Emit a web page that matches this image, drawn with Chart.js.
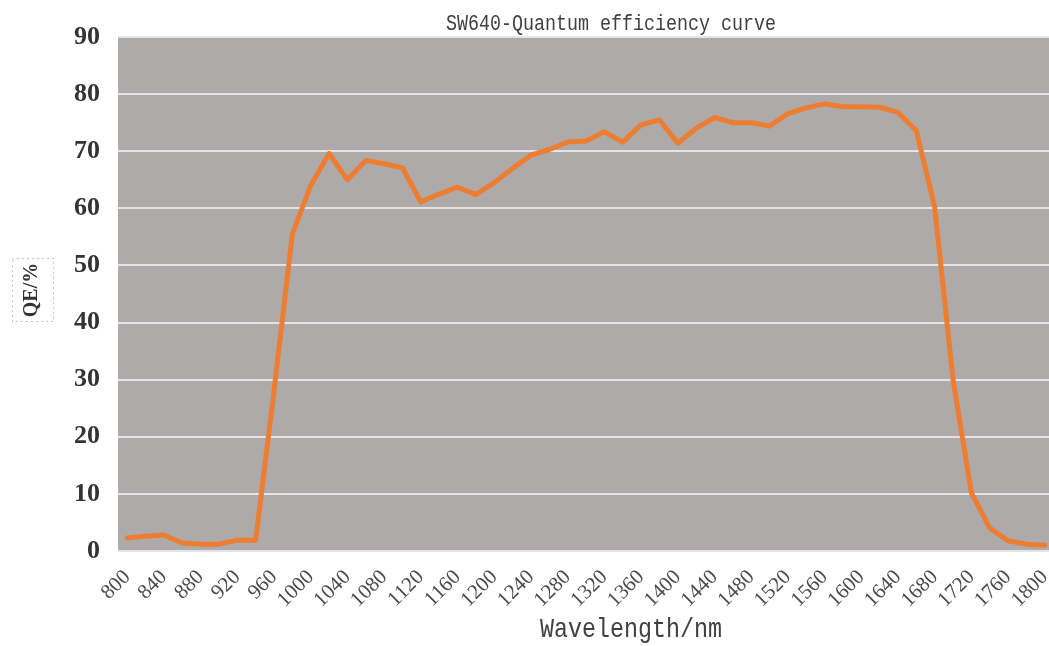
<!DOCTYPE html>
<html>
<head>
<meta charset="utf-8">
<title>SW640 Quantum efficiency curve</title>
<script src="https://cdn.jsdelivr.net/npm/chart.js@4/dist/chart.umd.min.js"></script>
<style>
    html, body { margin: 0; padding: 0; background: #fff; overflow: hidden; }
    #qeChart { display: block; }
</style>
</head>
<body>
<canvas id="qeChart" width="1056" height="646"></canvas>
<script>
// Длины волн, нм (шаг 20)
const wavelengths = [
    800, 820, 840, 860, 880, 900, 920, 940, 960, 980,
    1000, 1020, 1040, 1060, 1080, 1100, 1120, 1140, 1160, 1180,
    1200, 1220, 1240, 1260, 1280, 1300, 1320, 1340, 1360, 1380,
    1400, 1420, 1440, 1460, 1480, 1500, 1520, 1540, 1560, 1580,
    1600, 1620, 1640, 1660, 1680, 1700, 1720, 1740, 1760, 1780,
    1800
];

// Квантовая эффективность, %
const qeValues = [
    2.3, 2.6, 2.8, 1.4, 1.2, 1.2, 1.9, 1.9, 28, 55.5,
    64, 69.6, 65, 68.4, 67.8, 67.1, 61.1, 62.5, 63.7, 62.4,
    64.5, 67, 69.3, 70.3, 71.6, 71.8, 73.4, 71.6, 74.6, 75.5,
    71.4, 74, 75.9, 75, 75, 74.4, 76.6, 77.6, 78.3, 77.8,
    77.8, 77.7, 76.8, 73.6, 60.2, 30, 10.2, 4, 1.8, 1.2,
    1.0
];

const yTicks = [0, 10, 20, 30, 40, 50, 60, 70, 80, 90];

const chartTitle = 'SW640-Quantum efficiency curve';
const xTitle = 'Wavelength/nm';
const yTitle = 'QE/%';

// Серый фон области графика и подписи
const plotDecor = {
    id: 'plotDecor',
    beforeDraw(chart) {
        const { ctx, chartArea } = chart;
        ctx.save();
        ctx.fillStyle = '#aeaaa9';
        ctx.fillRect(chartArea.left, chartArea.top, chartArea.right - chartArea.left, chartArea.bottom - chartArea.top);
        ctx.restore();
    },
    afterDraw(chart) {
        const ctx = chart.ctx;

        // моноширинный шрифт, сжатый по ширине (как SimSun)
        const monoText = (text, x, y, size) => {
            ctx.save();
            ctx.translate(x, y);
            ctx.scale(0.833, 1);
            ctx.font = size + 'px "Liberation Mono"';
            ctx.fillStyle = '#404040';
            ctx.textAlign = 'center';
            ctx.textBaseline = 'middle';
            ctx.fillText(text, 0, 0);
            ctx.restore();
        };
        monoText(chartTitle, 611, 24, 22);
        monoText(xTitle, 631, 630, 28);

        // подпись оси Y
        ctx.save();
        ctx.translate(32, 290);
        ctx.rotate(-Math.PI / 2);
        ctx.font = 'bold 20px "Liberation Serif"';
        ctx.fillStyle = '#333';
        ctx.textAlign = 'center';
        ctx.textBaseline = 'middle';
        ctx.fillText(yTitle, 0, 0);
        ctx.restore();

        // пунктирная рамка вокруг подписи
        ctx.save();
        ctx.strokeStyle = '#8a8a8a';
        ctx.lineWidth = 1;
        ctx.setLineDash([1, 4]);
        ctx.strokeRect(12.5, 258.5, 41, 63);
        ctx.restore();
    }
};

const ctx = document.getElementById('qeChart').getContext('2d');
const qeChart = new Chart(ctx, {
    type: 'line',
    data: {
        labels: wavelengths,
        datasets: [
            {
                label: 'QE',
                data: qeValues,
                borderColor: '#ed7d31',
                backgroundColor: '#ed7d31',
                borderWidth: 5,
                pointRadius: 0,
                tension: 0,
                borderJoinStyle: 'round',
                borderCapStyle: 'round'
            }
        ]
    },
    options: {
        responsive: false,
        animation: false,
        layout: {
            padding: { top: 37, right: 2, left: 0, bottom: 0 }
        },
        plugins: {
            legend: { display: false },
            tooltip: { enabled: false },
            title: { display: false }
        },
        scales: {
            x: {
                type: 'category',
                offset: true,
                grid: { display: false, drawTicks: false },
                border: { display: false },
                ticks: {
                    autoSkip: false,
                    minRotation: 45,
                    maxRotation: 45,
                    padding: 14,
                    color: '#4a4a4a',
                    font: { family: '"Liberation Serif"', size: 21 },
                    callback: function (value, index) {
                        return index % 2 === 0 ? String(wavelengths[index]) : '';
                    }
                },
                afterFit: function (scale) {
                    scale.height = 95;
                    scale.paddingLeft = 0;
                    scale.paddingRight = 0;
                }
            },
            y: {
                min: yTicks[0],
                max: yTicks[yTicks.length - 1],
                afterBuildTicks: function (scale) {
                    scale.ticks = yTicks.map(v => ({ value: v }));
                },
                grid: {
                    color: '#e4e4e4',
                    lineWidth: 2,
                    drawTicks: false
                },
                border: { display: false },
                ticks: {
                    padding: 18,
                    color: '#333',
                    font: { family: '"Liberation Serif"', size: 26, weight: 'bold' }
                },
                afterFit: function (scale) {
                    scale.width = 118;
                }
            }
        }
    },
    plugins: [plotDecor]
});
</script>
</body>
</html>
